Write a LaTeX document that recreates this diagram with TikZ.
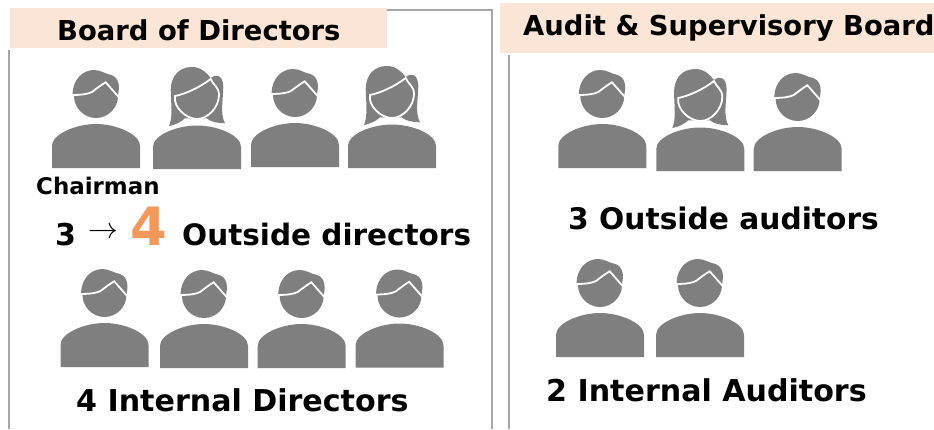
\documentclass[tikz,border=0pt]{standalone}
\usepackage{fontspec}
\setmainfont{DejaVu Sans}
\usetikzlibrary{positioning}

\definecolor{figgray}{HTML}{7F7F7F}
\definecolor{framegray}{HTML}{A6A6A6}
\definecolor{titlepeach}{HTML}{FBE5D6}
\definecolor{numorange}{HTML}{F4975A}

\tikzset{
  titlebar/.style={fill=titlepeach,draw=none},
  frameline/.style={draw=framegray,line width=1.2pt},
  bigtext/.style={anchor=base west,inner sep=0pt,font=\fontsize{30.2}{30}\selectfont\bfseries},
  midtext/.style={anchor=base west,inner sep=0pt,font=\fontsize{27.5}{28}\selectfont\bfseries},
  smalltext/.style={anchor=base west,inner sep=0pt,font=\fontsize{23}{23}\selectfont\bfseries},
  man/.pic={
    \fill [figgray] (-44,0) -- (-44,22) .. controls (-44,34) and (-20,44) .. (0,44) .. controls (20,44) and (44,34) .. (44,22) -- (44,0) -- cycle;
    \fill [figgray] (-23.5,74) .. controls (-23,89) and (-13,98) .. (-2,98) .. controls (5,98) and (9,94) .. (15.5,93) .. controls (21,91) and (23,86) .. (23,80) -- (22,72) .. controls (22,60) and (12,50) .. (0,50) .. controls (-12,50) and (-22,60) .. (-22,72) -- cycle;
    \draw [white,line width=1.8pt] (-24.5,73) .. controls (-14,73) and (-8,74) .. (-4,76) .. controls (0,79) and (5,83) .. (9.7,85.7) -- (23.5,70);
  },
  woman/.pic={
    \fill [figgray] (-44,0) -- (-44,22) .. controls (-44,34) and (-20,43.5) .. (0,43.5) .. controls (20,43.5) and (44,34) .. (44,22) -- (44,0) -- cycle;
    \fill [figgray] (-28,43) .. controls (-24,52) and (-26,65) .. (-26.3,79) .. controls (-26,93) and (-18,102) .. (-5,102) .. controls (4,102) and (10,96) .. (13.7,91) .. controls (18,95) and (26,95) .. (26.3,82) .. controls (26,68) and (23,55) .. (28,45.7) .. controls (20,46) and (14,47) .. (9.7,50.7) -- (-12,50.7) .. controls (-16,47) and (-22,44) .. (-28,43) -- cycle;
    \draw [white,line width=1.8pt] (-22,73) .. controls (-12,75) and (2,81) .. (13.7,90) .. controls (16,84) and (22,82) .. (22,74) .. controls (22,62) and (11,50) .. (0,50) .. controls (-11,50) and (-24,62) .. (-22,73) -- cycle;
  },
}

\begin{document}
\begin{tikzpicture}[x=1bp,y=1bp]
  \useasboundingbox (0,0) rectangle (934,429);
%
  \fill [titlebar] (10,381) rectangle (387,421);
  \fill [titlebar] (500,376) rectangle (934,426);
  \draw [frameline] (9,379) -- (9,0);
  \draw [frameline] (387,419) -- (492,419) -- (492,0);
  \draw [frameline] (509,374) -- (509,0);
%
  \pic at (96,261) {man};
  \pic at (197,260) {woman};
  \pic at (295,262) {man};
  \pic at (392,261) {woman};
  \pic at (104.5,62) {man};
  \pic at (204,61) {man};
  \pic at (301.7,61) {man};
  \pic at (399.5,61.5) {man};
  \pic at (602.3,261) {man};
  \pic at (700.3,258) {woman};
  \pic at (797.7,258) {man};
  \pic at (600,72) {man};
  \pic at (700,72) {man};
%
  \node (board) at (57,388.5) [midtext] {Board of Directors};
  \node (audit) at (523,393) [midtext] {Audit \& Supervisory Board};
  \node (chair) at (36,235) [smalltext] {Chairman};
  \node (three) at (55,184) [bigtext] {3};
  \node (arrow) at (103,196) [inner sep=0pt] {\scalebox{3}{$\rightarrow$}};
  \node (four) at (130,184) [anchor=base west,inner sep=0pt,text=numorange,font=\fontsize{53}{53}\selectfont\bfseries] {4};
  \node (outdir) at (182,184) [bigtext,font=\fontsize{29.6}{30}\selectfont\bfseries] {Outside directors};
  \node (intdir) at (76,17.5) [bigtext] {4 Internal Directors};
  \node (outaud) at (568,200) [bigtext,font=\fontsize{29.8}{30}\selectfont\bfseries] {3 Outside auditors};
  \node (intaud) at (546,28) [bigtext] {2 Internal Auditors};
%
\end{tikzpicture}
\end{document}
